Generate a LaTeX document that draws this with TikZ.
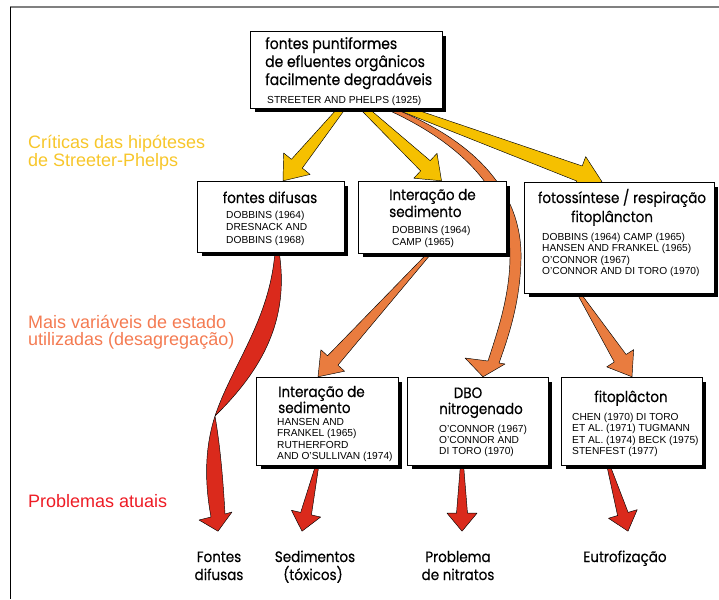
\documentclass[tikz,border=0pt]{standalone}
\usepackage{fontspec}
\setmainfont{Liberation Sans}
\newfontfamily\headfont[FakeStretch=0.9, FakeBold=0.4]{Poppins}
\usetikzlibrary{calc,shadows,fit}

\definecolor{ylw}{HTML}{F5C000}
\definecolor{org}{HTML}{E97C3F}
\definecolor{rd}{HTML}{DA2A1C}
\definecolor{txtylw}{HTML}{F7C62A}
\definecolor{txtorg}{HTML}{F47B52}
\definecolor{txtred}{HTML}{EE1C25}
\definecolor{rulegray}{HTML}{808080}

% straight tapered block arrow:
% #1 tail, #2 tip, #3 half width at tail, #4 half width of shaft at head,
% #5 half width of head, #6 head length, #7 style
\newcommand{\taperarrow}[7]{%
  \coordinate (tahb) at ($(#2)!#6!(#1)$);
  \path[#7] ($(#1)!#3!90:(#2)$) -- ($(tahb)!#4!90:(#2)$)
    -- ($(tahb)!#5!90:(#2)$) -- (#2) -- ($(tahb)!#5!-90:(#2)$)
    -- ($(tahb)!#4!-90:(#2)$) -- ($(#1)!#3!-90:(#2)$) -- cycle;
}

\tikzset{
  panel/.style={draw=black, line width=0.7pt, fill=white, rectangle, inner sep=0pt,
    general shadow={fill=black, shadow xshift=4pt, shadow yshift=-4pt}},
  ttl/.style={font=\headfont\fontsize{15.5}{18}\selectfont, inner sep=0pt},
  sttl/.style={font=\headfont\fontsize{15}{16}\selectfont, inner sep=0pt},
  ref/.style={font=\fontsize{10.2}{11}\selectfont, inner sep=0pt, anchor=base west},
  lvl/.style={font=\fontsize{18}{19}\selectfont, inner sep=0pt, anchor=base west},
  yarrow/.style={fill=ylw, draw=black, line width=0.45pt, line join=round},
  oarrow/.style={fill=org, draw=black, line width=0.45pt, line join=round},
  rarrow/.style={fill=rd, draw=black, line width=0.45pt, line join=round},
}

\begin{document}
\begin{tikzpicture}[x=1pt, y=-1pt]
\useasboundingbox (0,0) rectangle (719,599);

% frame lines
\draw[rulegray, line width=1.4pt] (10,7) -- (719,7);
\draw[black, line width=1pt] (10,7) -- (10,599);

% panel placement (panels are drawn later, on top of the arrows)
\path (346.5,70) coordinate (srcC) (271,217) coordinate (difC)
      (432.5,217.5) coordinate (sedAC) (619.5,238) coordinate (fotoC)
      (327.5,421.5) coordinate (sedBC) (478,421.5) coordinate (dboC)
      (632,421.5) coordinate (fitoC);

\node[minimum width=191pt, minimum height=76pt, inner sep=0pt] (src) at (srcC) {};
\node[minimum width=146pt, minimum height=70pt, inner sep=0pt] (dif) at (difC) {};
\node[minimum width=147pt, minimum height=71pt, inner sep=0pt] (sedA) at (sedAC) {};
\node[minimum width=189pt, minimum height=110pt, inner sep=0pt] (foto) at (fotoC) {};
\node[minimum width=141pt, minimum height=87pt, inner sep=0pt] (sedB) at (sedBC) {};
\node[minimum width=140pt, minimum height=87pt, inner sep=0pt] (dbo) at (dboC) {};
\node[minimum width=140pt, minimum height=87pt, inner sep=0pt] (fito) at (fitoC) {};

% ---------- arrows ----------
\coordinate (y1s) at ($(src.south)+(-3,-2)$);
\coordinate (y1e) at ($(dif.north)+(12,-1)$);
\coordinate (y2s) at ($(src.south)+(15,-2)$);
\coordinate (y2e) at ($(sedA.north)+(9,-1)$);
\coordinate (y3s) at ($(src.south)+(50,-2)$);
\coordinate (y3e) at ($(foto.north)+(-17.5,-1)$);
\taperarrow{y1s}{y1e}{3pt}{7pt}{17pt}{22pt}{yarrow}
\taperarrow{y2s}{y2e}{3pt}{7pt}{17pt}{22pt}{yarrow}
\taperarrow{y3s}{y3e}{3pt}{8pt}{18pt}{24pt}{yarrow}

% long orange curve from the top panel down to the DBO panel
\coordinate (o1e) at ($(dbo.north)+(5,-1)$);
\path[oarrow] (395,109) .. controls (472,140) and (523,190) .. (521,260)
  .. controls (520,300) and (510,333) .. (499,363)
  -- (505,364) -- (o1e) -- (465,358) -- (488,361)
  .. controls (498,330) and (510,295) .. (510,255)
  .. controls (510,195) and (465,145) .. (388,110) -- cycle;

\coordinate (o2s) at ($(sedA.south)+(-2,-1)$);
\coordinate (o2e) at ($(sedB.north)+(-9.5,-1)$);
\coordinate (o3s) at ($(foto.south)+(-41.5,-1)$);
\coordinate (o3e) at ($(fito.north)+(0,-1)$);
\taperarrow{o2s}{o2e}{1.5pt}{7pt}{16pt}{22pt}{oarrow}
\taperarrow{o3s}{o3e}{1.5pt}{7pt}{16pt}{22pt}{oarrow}

% twisted red ribbon from "fontes difusas" to its problem label
\coordinate (r1s) at ($(dif.south)+(6,-1)$);
\coordinate (r1e) at ($(dif.south)+(-53,279)$);
\path[rarrow] ($(r1s)+(-2,0)$) .. controls (270,320) and (232,365) .. (215,416)
  .. controls (262,370) and (290,320) .. ($(r1s)+(2,0)$) -- cycle;
\path[rarrow] (215,416) .. controls (204,450) and (205,485) .. (211,517)
  -- (199,520) -- (r1e) -- (232,512) -- (225,514)
  .. controls (223,478) and (220,445) .. (215,416) -- cycle;

\coordinate (r2s) at ($(sedB.south)+(-10,-1)$);
\coordinate (r2e) at ($(sedB.south)+(-25.5,66)$);
\coordinate (r3s) at ($(dbo.south)+(-16,-1)$);
\coordinate (r3e) at ($(dbo.south)+(-16,66)$);
\coordinate (r4s) at ($(fito.south)+(-24,-1)$);
\coordinate (r4e) at ($(fito.south)+(-4,66)$);
\taperarrow{r2s}{r2e}{1.5pt}{5.5pt}{15pt}{18pt}{rarrow}
\taperarrow{r3s}{r3e}{1.5pt}{5.5pt}{15pt}{18pt}{rarrow}
\taperarrow{r4s}{r4e}{1.5pt}{5.5pt}{15pt}{18pt}{rarrow}

% ---------- panels ----------
\foreach \b in {src,dif,sedA,foto,sedB,dbo,fito}
  \node[panel, fit=(\b)] {};

% top panel
\node[ttl, anchor=base west] (t1) at (265,49) {fontes puntiformes};
\node[ttl, anchor=base west] (t2) at (265,67) {de efluentes orgânicos};
\node[ttl, anchor=base west] (t3) at (265,85) {facilmente degradáveis};
\node[ref] (t4) at (267,103) {STREETER AND PHELPS (1925)};

% second row
\node[sttl, anchor=base] (d1) at (270,203) {fontes difusas};
\node[ref] (d2) at (226,218) {DOBBINS (1964)};
\node[ref] (d3) at (226,230.5) {DRESNACK AND};
\node[ref] (d4) at (226,243) {DOBBINS (1968)};

\node[sttl, anchor=base west] (s1) at (389,200) {Interação de};
\node[sttl, anchor=base west] (s2) at (389,217) {sedimento};
\node[ref] (s3) at (392,233) {DOBBINS (1964)};
\node[ref] (s4) at (392,245) {CAMP (1965)};

\node[sttl, anchor=base] (f1) at (622,203) {fotossíntese / respiração};
\node[sttl, anchor=base] (f2) at (612,222) {fitoplâncton};
\node[ref] (f3) at (542,240) {DOBBINS (1964) CAMP (1965)};
\node[ref] (f4) at (542,251.5) {HANSEN AND FRANKEL (1965)};
\node[ref] (f5) at (542,263) {O'CONNOR (1967)};
\node[ref] (f6) at (542,274.5) {O'CONNOR AND DI TORO (1970)};

% third row
\node[sttl, anchor=base west] (b1) at (278,397) {Interação de};
\node[sttl, anchor=base west] (b2) at (278,413) {sedimento};
\node[ref] (b3) at (277,425) {HANSEN AND};
\node[ref] (b4) at (277,436.5) {FRANKEL (1965)};
\node[ref] (b5) at (277,448) {RUTHERFORD};
\node[ref] (b6) at (277,459.5) {AND O'SULLIVAN (1974)};

\node[sttl, anchor=base] (n1) at (468,398) {DBO};
\node[sttl, anchor=base] (n2) at (481,414) {nitrogenado};
\node[ref] (n3) at (439,432) {O'CONNOR (1967)};
\node[ref] (n4) at (439,443) {O'CONNOR AND};
\node[ref] (n5) at (439,454) {DI TORO (1970)};

\node[sttl, anchor=base] (p1) at (631,402) {fitoplâcton};
\node[ref] (p2) at (572,420) {CHEN (1970) DI TORO};
\node[ref] (p3) at (572,431.5) {ET AL. (1971) TUGMANN};
\node[ref] (p4) at (572,443) {ET AL. (1974) BECK (1975)};
\node[ref] (p5) at (572,454.5) {STENFEST (1977)};

% level captions on the left
\node[lvl, text=txtylw] (c1) at (28,148) {Críticas das hipóteses};
\node[lvl, text=txtylw] (c2) at (28,166) {de Streeter-Phelps};
\node[lvl, text=txtorg] (c3) at (28,328) {Mais variáveis de estado};
\node[lvl, text=txtorg] (c4) at (28,345) {utilizadas (desagregação)};
\node[lvl, text=txtred] (c5) at (28,507) {Problemas atuais};

% problem labels at the bottom
\node[sttl, anchor=base] (e1) at (219,562) {Fontes};
\node[sttl, anchor=base] (e2) at (219,580) {difusas};
\node[sttl, anchor=base] (e3) at (315,562) {Sedimentos};
\node[sttl, anchor=base] (e4) at (313,580) {(tóxicos)};
\node[sttl, anchor=base] (e5) at (458,562) {Problema};
\node[sttl, anchor=base] (e6) at (458,580) {de nitratos};
\node[sttl, anchor=base] (e7) at (625,562) {Eutrofização};
\end{tikzpicture}
\end{document}
